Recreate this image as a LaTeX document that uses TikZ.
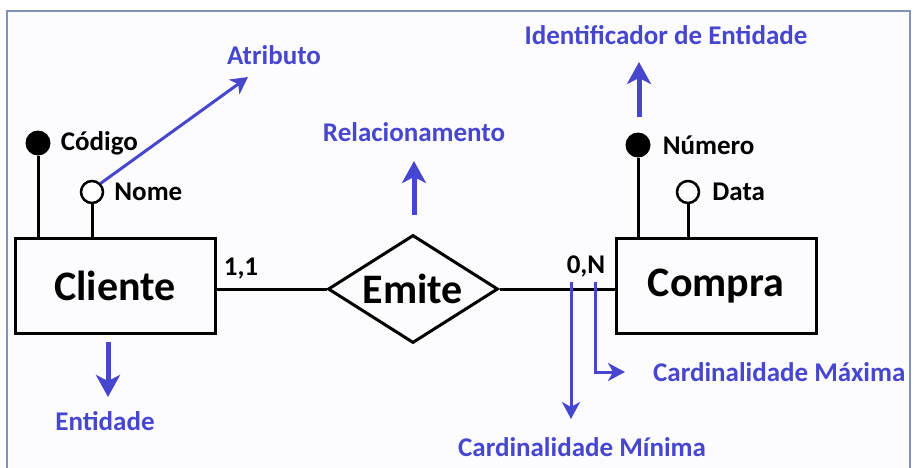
\documentclass[tikz,border=0pt]{standalone}
\usepackage{fontspec}
\setmainfont{Carlito}
\usetikzlibrary{shapes.geometric,arrows.meta,positioning}
\definecolor{erblue}{RGB}{70,70,206}
\definecolor{framegray}{RGB}{128,146,184}

\begin{document}
\begin{tikzpicture}[x=1pt,y=-1pt,
    entbox/.style={draw, line width=3pt, minimum width=200pt, minimum height=95pt, font=\fontsize{42}{44}\selectfont\bfseries},
    relbox/.style={draw, diamond, aspect=1.6, line width=3pt, minimum width=170pt, minimum height=108pt, inner sep=0pt, font=\fontsize{42}{44}\selectfont\bfseries},
    keydot/.style={circle, fill=black, minimum size=25pt, inner sep=0pt},
    attdot/.style={circle, draw, line width=2.5pt, fill=white, minimum size=22pt, inner sep=0pt},
    lbl/.style={inner sep=0pt, font=\fontsize{27}{29}\selectfont\bfseries},
    bluelbl/.style={lbl, text=erblue},
    bigarrow/.style={draw=erblue, line width=5pt, -{Stealth[length=22pt, width=24pt, inset=6pt]}},
    thinarrow/.style={draw=erblue, line width=3pt, -{Stealth[length=17pt, width=18pt, inset=5pt]}},
    link/.style={line width=3pt}]

  \useasboundingbox (0,0) rectangle (914,467);
  \draw[framegray, line width=2pt, fill=blue!1] (7,468) -- (7,11) -- (910,11) -- (910,468);

  %% entities and relationship
  \node[entbox] (cliente) at (115,285.5) {Cliente};
  \node[entbox] (compra) at (716,286) {Compra};
  \node[relbox] (emite) at (413,289) {Emite};

  \draw[link] (emite.west) -- (emite.west -| cliente.east);
  \draw[link] (emite.east) -- (emite.east -| compra.west);

  \node[lbl] (card11) at (241,269) {1,1};
  \node[lbl] (card0n) at (586,266) {0,N};

  %% attributes of Cliente
  \node[keydot] (codigo) at (38,143) {};
  \node[lbl, right=10pt of codigo] (codigolbl) {Código};
  \node[attdot] (nome) at (92,192) {};
  \node[lbl, right=10pt of nome] (nomelbl) {Nome};
  \draw[link] (codigo.south) -- (codigo.south |- cliente.north);
  \draw[link] (nome.south) -- (nome.south |- cliente.north);

  %% attributes of Compra
  \node[keydot] (numero) at (638,145) {};
  \node[lbl, right=12pt of numero] (numerolbl) {Número};
  \node[attdot] (data) at (688,192) {};
  \node[lbl, right=12pt of data] (datalbl) {Data};
  \draw[link] (numero.south) -- (numero.south |- compra.north);
  \draw[link] (data.south) -- (data.south |- compra.north);

  %% explanations
  \node[bluelbl] (atributo) at (274,55) {Atributo};
  \node[bluelbl] (relacion) at (414,132) {Relacionamento};
  \node[bluelbl] (identif) at (666,35) {Identificador de Entidade};
  \node[bluelbl] (entidade) at (105,421) {Entidade};
  \node[bluelbl] (cardmin) at (582,447) {Cardinalidade Mínima};
  \node[bluelbl, anchor=west] (cardmax) at (653,372) {Cardinalidade Máxima};

  \coordinate (atrtip) at (248,77);
  \coordinate (relfoot) at (414,215);
  \coordinate (reltip) at (414,161);
  \coordinate (idfoot) at (639,117);
  \coordinate (idtip) at (639,62);
  \coordinate (entfoot) at (108,342);
  \coordinate (enttip) at (108,397);
  \coordinate (minfoot) at (571,282);
  \coordinate (mintip) at (571,419);
  \coordinate (maxfoot) at (595,282);
  \coordinate (maxtip) at (625,372);

  \draw[thinarrow] (nome.north east) -- (atrtip); % Nome -> Atributo
  \draw[bigarrow] (relfoot) -- (reltip);
  \draw[bigarrow] (idfoot) -- (idtip);
  \draw[bigarrow] (entfoot) -- (enttip);
  \draw[thinarrow] (minfoot) -- (mintip);
  \draw[thinarrow] (maxfoot) |- (maxtip);
\end{tikzpicture}
\end{document}
